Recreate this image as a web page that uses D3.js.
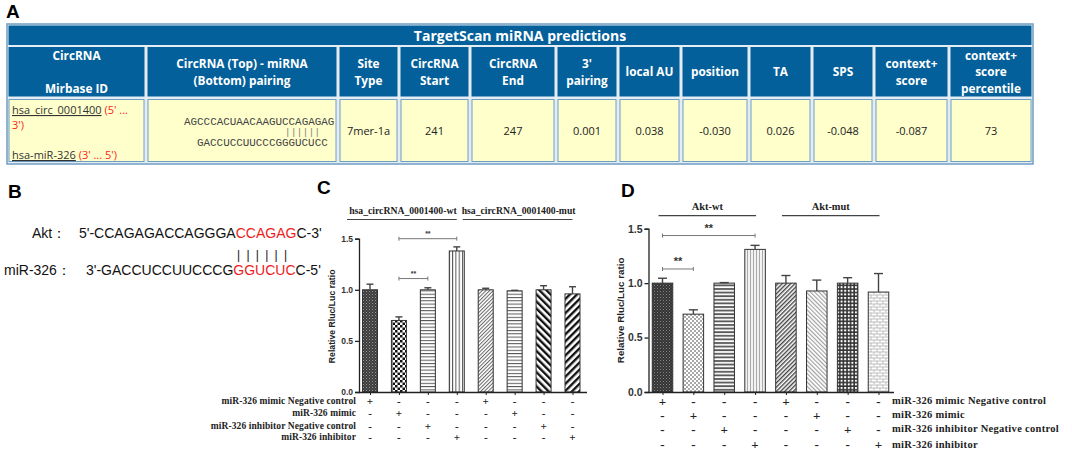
<!DOCTYPE html>
<html>
<head>
<meta charset="utf-8">
<script src="https://cdn.jsdelivr.net/npm/d3@7"></script>
<style>
  body { margin: 0; background: #fff; }
  svg { display: block; }
</style>
</head>
<body>
<script>
// ---- data ----
const tableTitle = "TargetScan miRNA predictions";
const tableHeaders = [
  ["CircRNA", "", "Mirbase ID"],
  ["CircRNA (Top) - miRNA", "(Bottom) pairing"],
  ["Site", "Type"],
  ["CircRNA", "Start"],
  ["CircRNA", "End"],
  ["3'", "pairing"],
  ["local AU"],
  ["position"],
  ["TA"],
  ["SPS"],
  ["context+", "score"],
  ["context+", "score", "percentile"]
];
const tableValues = [null, null, "7mer-1a", "241", "247", "0.001", "0.038", "-0.030", "0.026", "-0.048", "-0.087", "73"];
const circName = "hsa_circ_0001400", mirName = "hsa-miR-326";
const circSeq = "AGCCCACUAACAAGUCCAGAGAG", pairMarks = "||||||", mirSeq = "GACCUCCUUCCCGGGUCUCC";

const aktSeq = ["5'-CCAGAGACCAGGGA", "CCAGAG", "C-3'"];
const mirSeqB = ["3'-GACCUCCUUCCCG", "GGUCUC", "C-5'"];

const barIds = ["wt1", "wt2", "wt3", "wt4", "mut1", "mut2", "mut3", "mut4"];
const conditions = ["miR-326 mimic Negative control", "miR-326 mimic", "miR-326 inhibitor Negative control", "miR-326 inhibitor"];
const signs = [
  ["+", "-", "-", "-", "+", "-", "-", "-"],
  ["-", "+", "-", "-", "-", "+", "-", "-"],
  ["-", "-", "+", "-", "-", "-", "+", "-"],
  ["-", "-", "-", "+", "-", "-", "-", "+"]
];
const yTicks = [0, 0.5, 1.0, 1.5];

const cGroups = ["hsa_circRNA_0001400-wt", "hsa_circRNA_0001400-mut"];
const cMeans = [1.00, 0.70, 1.00, 1.38, 1.00, 0.99, 1.00, 0.96];
const cErrors = [0.055, 0.035, 0.02, 0.04, 0.015, 0.005, 0.04, 0.07];
const cSig = [["wt2", "wt4", 1.50], ["wt2", "wt3", 1.11]];

const dGroups = ["Akt-wt", "Akt-mut"];
const dMeans = [1.00, 0.715, 1.00, 1.31, 1.00, 0.928, 1.00, 0.918];
const dErrors = [0.045, 0.04, 0.005, 0.037, 0.07, 0.10, 0.05, 0.17];
const dSig = [["wt1", "wt4", 1.437], ["wt1", "wt2", 1.13]];

// ---- page ----
const W = 1072, H = 460;
const svg = d3.select("body").append("svg").attr("width", W).attr("height", H);
const defs = svg.append("defs");

function pattern(id, size, bg, draw, rot) {
  const p = defs.append("pattern").attr("id", id)
    .attr("patternUnits", "userSpaceOnUse")
    .attr("width", size).attr("height", size);
  if (rot) p.attr("patternTransform", "rotate(" + rot + ")");
  p.append("rect").attr("width", size).attr("height", size).attr("fill", bg);
  draw(p);
}
const line = (p, x1, y1, x2, y2, c, w) => p.append("line")
  .attr("x1", x1).attr("y1", y1).attr("x2", x2).attr("y2", y2)
  .attr("stroke", c).attr("stroke-width", w);
const sq = (p, x, y, s, c) => p.append("rect").attr("x", x).attr("y", y).attr("width", s).attr("height", s).attr("fill", c);

// panel C fills
pattern("c1", 3, "#3c3c3c", p => { sq(p, 0, 0, 1, "#9a9a9a"); sq(p, 1.5, 1.5, 1, "#777"); });
pattern("c2", 5, "#fff", p => { sq(p, 0, 0, 2.5, "#111"); sq(p, 2.5, 2.5, 2.5, "#111"); });
pattern("c3", 3.3, "#fff", p => line(p, 0, 0.5, 3.3, 0.5, "#555", 1));
pattern("c4", 3.3, "#fff", p => line(p, 0.5, 0, 0.5, 3.3, "#555", 1));
pattern("c5", 2.6, "#fff", p => line(p, 0.5, 0, 0.5, 2.6, "#666", 1), 45);
pattern("c6", 3.3, "#fff", p => line(p, 0, 0.5, 3.3, 0.5, "#555", 1));
pattern("c7", 5, "#fff", p => line(p, 1.2, 0, 1.2, 5, "#111", 2.4), -45);
pattern("c8", 5, "#fff", p => line(p, 1.2, 0, 1.2, 5, "#111", 2.4), 45);
// panel D fills
pattern("d1", 3, "#333", p => { sq(p, 0, 0, 1, "#8a8a8a"); sq(p, 1.5, 1.5, 1, "#6a6a6a"); });
pattern("d2", 4, "#fff", p => { sq(p, 0, 0, 2, "#a8a8a8"); sq(p, 2, 2, 2, "#a8a8a8"); });
pattern("d3", 3.6, "#fff", p => line(p, 0, 1, 3.6, 1, "#555", 1.8));
pattern("d4", 3, "#f2f2f2", p => line(p, 0.5, 0, 0.5, 3, "#aaa", 1));
pattern("d5", 3, "#fff", p => line(p, 0.7, 0, 0.7, 3, "#444", 1.4), 45);
pattern("d6", 3, "#fff", p => line(p, 0.6, 0, 0.6, 3, "#9a9a9a", 1.1), -45);
pattern("d7", 3.6, "#fff", p => { line(p, 0, 1, 3.6, 1, "#333", 1.6); line(p, 1, 0, 1, 3.6, "#333", 1.6); });
pattern("d8", 6, "#fff", p => {
  line(p, 0, 1, 6, 1, "#bbb", 1); line(p, 0, 4, 6, 4, "#bbb", 1);
  line(p, 1, 1, 1, 4, "#bbb", 1); line(p, 4, 4, 4, 7, "#bbb", 1);
});

const panelLetter = (t, x, y) => svg.append("text").attr("x", x).attr("y", y)
  .attr("font-family", "Liberation Sans, Arial, sans-serif").attr("font-weight", "bold")
  .attr("font-size", 19).text(t);

// ---- A: table ----
panelLetter("A", 6, 18);
const colX = [7, 146, 338, 399, 470, 556, 618, 681, 749, 812, 874, 949, 1033];
const rowY = [24, 46, 98, 164];
const blue = "#04609a", edge = "#6f9ec4";
const table = svg.append("g").attr("font-family", "Open Sans, sans-serif");

table.append("rect").attr("x", colX[0]).attr("y", rowY[0])
  .attr("width", colX[12] - colX[0]).attr("height", rowY[3] - rowY[0])
  .attr("fill", "#e4edf4").attr("stroke", edge).attr("stroke-width", 1.5);
table.append("rect").attr("x", colX[0] + 1.5).attr("y", rowY[0] + 1.5)
  .attr("width", colX[12] - colX[0] - 3).attr("height", rowY[1] - rowY[0] - 2.5)
  .attr("fill", blue);
table.append("text").attr("x", (colX[0] + colX[12]) / 2).attr("y", 40.5)
  .attr("text-anchor", "middle").attr("fill", "#fff").attr("font-weight", "bold")
  .attr("font-size", 14).text(tableTitle);

const heads = table.selectAll("g.head").data(tableHeaders).enter().append("g").attr("class", "head");
heads.append("rect")
  .attr("x", (d, i) => colX[i] + 1.5).attr("y", rowY[1] + 1)
  .attr("width", (d, i) => colX[i + 1] - colX[i] - 3).attr("height", rowY[2] - rowY[1] - 2.5)
  .attr("fill", blue);
heads.each(function (lines, i) {
  const cx = (colX[i] + colX[i + 1]) / 2, cy = (rowY[1] + rowY[2]) / 2;
  d3.select(this).selectAll("text").data(lines.map((t, k) => [t, k]).filter(d => d[0] !== ""))
    .enter().append("text")
    .attr("x", cx)
    .attr("y", d => cy + (d[1] - (lines.length - 1) / 2) * 16.2 + 4.4)
    .attr("text-anchor", "middle").attr("fill", "#fff").attr("font-weight", "bold")
    .attr("font-size", 11.8).text(d => d[0]);
});

const cells = table.selectAll("g.cell").data(tableValues).enter().append("g").attr("class", "cell");
cells.append("rect")
  .attr("x", (d, i) => colX[i] + 2).attr("y", rowY[2] + 1.5)
  .attr("width", (d, i) => colX[i + 1] - colX[i] - 4).attr("height", rowY[3] - rowY[2] - 4)
  .attr("fill", "#ffffcc").attr("stroke", edge).attr("stroke-width", 1);
cells.filter(d => d !== null).append("text")
  .attr("x", (d, i) => (colX[i + 2] + colX[i + 3]) / 2)
  .attr("y", 135).attr("text-anchor", "middle").attr("fill", "#222")
  .attr("font-size", 11).text(d => d);

// name column
const nameCol = table.append("g").attr("font-size", 11);
const n1 = nameCol.append("text").attr("x", colX[0] + 5).attr("y", 114);
n1.append("tspan").attr("fill", "#333").attr("text-decoration", "underline").text(circName);
n1.append("tspan").attr("fill", "#f22").text(" (5' ...");
nameCol.append("text").attr("x", colX[0] + 5).attr("y", 129).attr("fill", "#f22").text("3')");
const n2 = nameCol.append("text").attr("x", colX[0] + 5).attr("y", 159);
n2.append("tspan").attr("fill", "#333").attr("text-decoration", "underline").text(mirName);
n2.append("tspan").attr("fill", "#f22").text(" (3' ... 5')");

// pairing column
const seq = table.append("g").attr("font-family", "Liberation Mono, monospace")
  .attr("font-size", 10.9).attr("fill", "#444");
seq.append("text").attr("x", 184).attr("y", 125).text(circSeq);
seq.append("text").attr("x", 285).attr("y", 135).attr("font-size", 9).attr("fill", "#777")
  .attr("textLength", 35).attr("lengthAdjust", "spacing").text(pairMarks);
seq.append("text").attr("x", 197).attr("y", 146).text(mirSeq);

// ---- B: pairing ----
panelLetter("B", 8, 198);
const seqB = svg.append("g").attr("font-family", "Liberation Sans, Arial, sans-serif").attr("font-size", 14).attr("fill", "#111");
seqB.append("text").attr("x", 32).attr("y", 238).text("Akt：");
seqB.append("text").attr("x", 4).attr("y", 275).text("miR-326：");
function seqLine(parts, x, y) {
  const t = seqB.append("text").attr("x", x).attr("y", y);
  parts.forEach((s, k) => t.append("tspan").attr("fill", k === 1 ? "#ee1c1c" : "#111").text(s));
  return t;
}
seqLine(aktSeq, 79, 238);
seqLine(mirSeqB, 86, 275);
seqB.append("text").attr("x", 237).attr("y", 259).attr("font-size", 12)
  .attr("textLength", 50).attr("lengthAdjust", "spacing").text("| | | | | |");

// ---- bar panels ----
function barPanel(o) {
  const g = svg.append("g");
  const x = d3.scalePoint().domain(barIds).range(o.xRange);
  const y = d3.scaleLinear().domain([0, 1.5]).range([392, o.yTop]);

  g.selectAll("rect.bar").data(o.means).enter().append("rect").attr("class", "bar")
    .attr("x", (d, i) => x(barIds[i]) - o.bw / 2).attr("y", d => y(d))
    .attr("width", o.bw).attr("height", d => y(0) - y(d))
    .attr("fill", (d, i) => "url(#" + o.fills[i] + ")")
    .attr("stroke", "#333").attr("stroke-width", 1);

  const eb = g.selectAll("g.err").data(o.means).enter().append("g").attr("class", "err")
    .attr("stroke", "#444").attr("stroke-width", 1.4);
  eb.append("line").attr("x1", (d, i) => x(barIds[i])).attr("x2", (d, i) => x(barIds[i]))
    .attr("y1", d => y(d)).attr("y2", (d, i) => y(d + o.errors[i]));
  eb.append("line").attr("x1", (d, i) => x(barIds[i]) - o.cap).attr("x2", (d, i) => x(barIds[i]) + o.cap)
    .attr("y1", (d, i) => y(d + o.errors[i])).attr("y2", (d, i) => y(d + o.errors[i]));

  const yAxis = g.append("g").attr("transform", "translate(" + o.axisX + ",0)")
    .call(d3.axisLeft(y).tickValues(yTicks).tickFormat(d3.format(".1f")).tickSize(4).tickPadding(2));
  yAxis.selectAll("text").attr("font-family", "Liberation Sans, Arial, sans-serif")
    .attr("font-weight", "bold").attr("font-size", o.tickFs).attr("fill", "#333");
  yAxis.selectAll("path, line").attr("stroke", "#222").attr("stroke-width", 1.3);

  const xAxis = g.append("g").attr("transform", "translate(0,392)")
    .call(d3.axisBottom(x).tickSize(3).tickFormat(""));
  xAxis.select("path").attr("d", "M" + o.axisX + ",0.5H" + o.axisEnd)
    .attr("stroke", "#222").attr("stroke-width", 1.3);
  xAxis.selectAll("line").attr("stroke", "#222");

  g.append("text")
    .attr("transform", "translate(" + o.labelX + "," + y(o.labelAt) + ") rotate(-90)")
    .attr("text-anchor", "middle").attr("font-family", "Liberation Sans, Arial, sans-serif")
    .attr("font-weight", "bold").attr("font-size", o.labelFs).attr("fill", "#222")
    .text("Relative Rluc/Luc ratio");

  // group headers
  const serif = "Liberation Serif, Times New Roman, serif";
  o.groups.forEach((name, k) => {
    const x0 = x(barIds[k * 4]) + o.groupPad[0], x1 = x(barIds[k * 4 + 3]) + o.groupPad[1];
    g.append("line").attr("x1", x0).attr("x2", x1).attr("y1", o.groupLineY).attr("y2", o.groupLineY)
      .attr("stroke", "#444").attr("stroke-width", 1.2);
    g.append("text").attr("x", (x0 + x1) / 2 + o.groupShift).attr("y", o.groupLineY - 6)
      .attr("text-anchor", "middle").attr("font-family", serif).attr("font-weight", "bold")
      .attr("font-size", o.groupFs).attr("fill", "#222").text(name);
  });

  // significance brackets
  o.sig.forEach(([a, b, v]) => {
    const yy = y(v);
    const br = g.append("g").attr("stroke", "#777").attr("stroke-width", 1);
    br.append("line").attr("x1", x(a)).attr("x2", x(b)).attr("y1", yy).attr("y2", yy);
    br.append("line").attr("x1", x(a)).attr("x2", x(a)).attr("y1", yy - 2).attr("y2", yy + 2);
    br.append("line").attr("x1", x(b)).attr("x2", x(b)).attr("y1", yy - 2).attr("y2", yy + 2);
    g.append("text").attr("x", (x(a) + x(b)) / 2).attr("y", yy - o.starGap)
      .attr("text-anchor", "middle").attr("font-family", "Liberation Sans, Arial, sans-serif")
      .attr("font-weight", "bold").attr("font-size", o.starFs).attr("fill", "#333").text("**");
  });

  // treatment rows
  conditions.forEach((c, r) => {
    g.append("text").attr("x", o.rowLabelX).attr("y", o.rowY[r])
      .attr("text-anchor", o.rowAnchor).attr("font-family", serif).attr("font-weight", "bold")
      .attr("font-size", o.rowFs).attr("letter-spacing", o.rowLs).attr("fill", "#222").text(c);
    g.selectAll(null).data(signs[r]).enter().append("text")
      .attr("x", (s, i) => x(barIds[i])).attr("y", o.signY[r])
      .attr("text-anchor", "middle").attr("font-family", serif).attr("font-weight", "bold")
      .attr("font-size", o.signFs).attr("fill", "#222").text(s => s);
  });
}

panelLetter("C", 317, 194);
barPanel({
  means: cMeans, errors: cErrors, sig: cSig, groups: cGroups,
  fills: ["c1", "c2", "c3", "c4", "c5", "c6", "c7", "c8"],
  xRange: [370, 572.5], bw: 15, cap: 3.5, yTop: 238.7, axisX: 359, axisEnd: 587,
  tickFs: 8.5, labelX: 335, labelAt: 0.74, labelFs: 8.7,
  groupLineY: 219.5, groupPad: [-23, 0], groupShift: 1, groupFs: 9.7,
  starGap: 3, starFs: 7,
  rowLabelX: 356, rowAnchor: "end", rowFs: 9.5, rowLs: 0.1, signFs: 11,
  rowY: [404, 416, 429, 440], signY: [405, 417, 430, 441]
});

panelLetter("D", 621, 197);
barPanel({
  means: dMeans, errors: dErrors, sig: dSig, groups: dGroups,
  fills: ["d1", "d2", "d3", "d4", "d5", "d6", "d7", "d8"],
  xRange: [662.5, 878.5], bw: 20.5, cap: 4.5, yTop: 228.7, axisX: 648.5, axisEnd: 894,
  tickFs: 10.5, labelX: 624, labelAt: 0.75, labelFs: 9.8,
  groupLineY: 215.7, groupPad: [-4, 1], groupShift: 0, groupFs: 10.4,
  starGap: 4, starFs: 11,
  rowLabelX: 892, rowAnchor: "start", rowFs: 10.5, rowLs: 0.3, signFs: 13,
  rowY: [404, 418, 432, 448], signY: [406, 420, 434, 449]
});
</script>
</body>
</html>
